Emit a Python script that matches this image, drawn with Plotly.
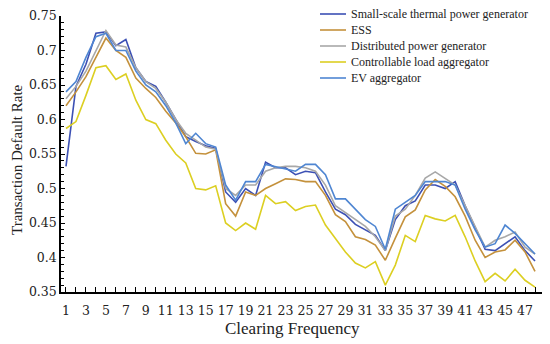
import plotly.graph_objects as go

clearing = list(range(1, 49))

small_scale_thermal = [0.532, 0.648, 0.68, 0.725, 0.727, 0.707, 0.716, 0.675, 0.655, 0.648,
                       0.625, 0.6, 0.575, 0.568, 0.562, 0.558, 0.495, 0.48, 0.5, 0.49,
                       0.538, 0.53, 0.53, 0.52, 0.525, 0.523, 0.495, 0.47, 0.462, 0.448,
                       0.44, 0.432, 0.41, 0.455, 0.475, 0.482, 0.505, 0.505, 0.5, 0.51,
                       0.475, 0.443, 0.412, 0.41, 0.42, 0.43, 0.41, 0.395]
ess = [0.62, 0.64, 0.662, 0.69, 0.718, 0.7, 0.69, 0.66, 0.645, 0.632,
       0.612, 0.595, 0.575, 0.551, 0.55, 0.556, 0.478, 0.46, 0.495, 0.49,
       0.5, 0.507, 0.514, 0.513, 0.51, 0.51, 0.49, 0.462, 0.452, 0.43,
       0.426, 0.418, 0.396, 0.428, 0.459, 0.469, 0.498, 0.513, 0.503, 0.488,
       0.46, 0.425, 0.4, 0.408, 0.411, 0.425, 0.408, 0.38]
distributed = [0.63, 0.648, 0.67, 0.7, 0.729, 0.708, 0.705, 0.675, 0.655, 0.645,
               0.625, 0.6, 0.58, 0.57, 0.56, 0.557, 0.5, 0.49, 0.505, 0.505,
               0.525, 0.53, 0.532, 0.532, 0.53, 0.525, 0.505, 0.475, 0.465, 0.455,
               0.445, 0.43, 0.41, 0.46, 0.47, 0.49, 0.515, 0.524, 0.515, 0.505,
               0.475, 0.445, 0.415, 0.425, 0.43, 0.437, 0.415, 0.405]
controllable_load = [0.587, 0.597, 0.635, 0.675, 0.678, 0.658, 0.666, 0.628, 0.6, 0.594,
                     0.57, 0.55, 0.537, 0.5, 0.498, 0.504, 0.45, 0.439, 0.45, 0.441,
                     0.49, 0.478, 0.481, 0.468, 0.474, 0.476, 0.447, 0.428, 0.408, 0.392,
                     0.385, 0.394, 0.36, 0.389, 0.432, 0.423, 0.461, 0.456, 0.453, 0.461,
                     0.43, 0.395, 0.365, 0.377, 0.366, 0.383, 0.367, 0.357]
ev_aggregator = [0.64, 0.655, 0.69, 0.72, 0.725, 0.7, 0.7, 0.67, 0.65, 0.64,
                 0.62, 0.595, 0.565, 0.58, 0.565, 0.56, 0.505, 0.483, 0.51, 0.51,
                 0.535, 0.532, 0.528, 0.525, 0.535, 0.535, 0.52, 0.485, 0.485, 0.47,
                 0.455, 0.445, 0.412, 0.47, 0.48, 0.49, 0.51, 0.51, 0.51, 0.505,
                 0.47, 0.44, 0.415, 0.42, 0.447, 0.435, 0.42, 0.405]

series_names = ["Small-scale thermal power generator", "ESS", "Distributed power generator",
                "Controllable load aggregator", "EV aggregator"]
series_values = [small_scale_thermal, ess, distributed, controllable_load, ev_aggregator]
colors = ["#3c50b4", "#c4913c", "#a8a8a8", "#dccf22", "#4f86d2"]

x_tickvals = list(range(1, 48, 2))
y_tickvals = [0.35, 0.4, 0.45, 0.5, 0.55, 0.6, 0.65, 0.7, 0.75]
y_ticktext = ["0.35", "0.4", "0.45", "0.5", "0.55", "0.6", "0.65", "0.7", "0.75"]

title_font = "Liberation Serif, DejaVu Serif, serif"
tick_font = "DejaVu Serif, Liberation Serif, serif"

# page body has an 8px default margin; lay out relative to the window
OFF = 8
W, H = 550 - OFF, 344 - OFF
L, T = 61 - OFF, 16 - OFF
R = W - (542 - OFF)
B = H - (292 - OFF)
PW, PH = W - L - R, H - T - B


def px_x(px):
    return (px - OFF - L) / PW


def px_y(py):
    return 1 - (py - OFF - T) / PH


fig = go.Figure()
for name, vals, col in zip(series_names, series_values, colors):
    fig.add_trace(go.Scatter(x=clearing, y=vals, mode="lines", name=name,
                             line=dict(color=col, width=1.6), showlegend=False))

# manual legend (compact row spacing as in the reference)
legend_rows_px = [14, 30, 46, 62, 78]
for name, col, ry in zip(series_names, colors, legend_rows_px):
    fig.add_shape(type="line", xref="paper", yref="paper",
                  x0=px_x(320), x1=px_x(346), y0=px_y(ry), y1=px_y(ry),
                  line=dict(color=col, width=1.6))
    fig.add_annotation(xref="paper", yref="paper", x=px_x(349), y=px_y(ry),
                       xanchor="left", yanchor="middle", text=name, showarrow=False,
                       font=dict(family=title_font, size=12, color="#222222"))

fig.add_annotation(xref="paper", yref="paper", x=px_x(292), y=px_y(328),
                   xanchor="center", yanchor="middle", text="Clearing Frequency",
                   showarrow=False, font=dict(family=title_font, size=17, color="#222222"))
fig.add_annotation(xref="paper", yref="paper", x=px_x(17), y=px_y(160),
                   xanchor="center", yanchor="middle", text="Transaction Default Rate",
                   textangle=-90, showarrow=False,
                   font=dict(family=title_font, size=15, color="#222222"))

fig.update_layout(
    width=W, height=H,
    margin=dict(l=L, r=R, t=T, b=B, autoexpand=False),
    paper_bgcolor="white", plot_bgcolor="white",
    font=dict(family=tick_font, color="#222222", size=13),
    showlegend=False,
    xaxis=dict(range=[0.5, 48.7], tickvals=x_tickvals, ticks="inside", ticklen=5,
               tickcolor="black", showline=True, linecolor="black", linewidth=1.5,
               showgrid=False, zeroline=False, tickfont=dict(size=12.5, family=tick_font),
               ticklabelstandoff=6,
               minor=dict(dtick=1, tick0=0, ticks="inside", ticklen=5, tickcolor="black", showgrid=False)),
    yaxis=dict(range=[0.35, 0.75], tickvals=y_tickvals, ticktext=y_ticktext, ticks="inside",
               ticklen=4, tickcolor="black", showline=True, linecolor="black", linewidth=1.5,
               showgrid=False, zeroline=False, tickfont=dict(size=12.5, family=tick_font),
               minor=dict(dtick=0.01, tick0=0.35, ticks="inside", ticklen=3, tickcolor="black", showgrid=False)),
)

fig.write_html("out.html")
